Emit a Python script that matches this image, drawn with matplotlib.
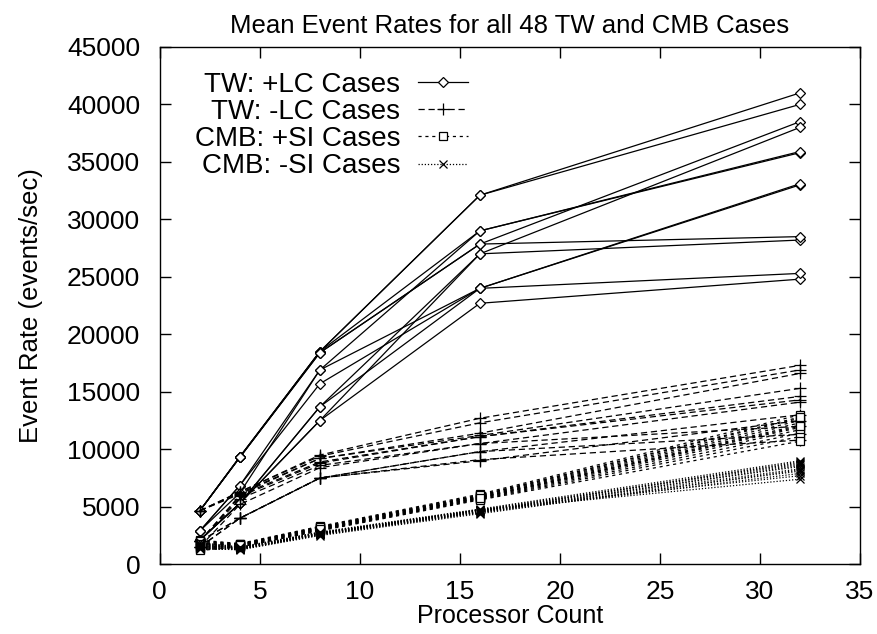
import matplotlib
matplotlib.use("Agg")
import matplotlib.pyplot as plt
from matplotlib.legend_handler import HandlerLine2D

# processor counts on the x axis
procs = [2, 4, 8, 16, 32]

# TW +LC cases (events/sec), one row per case
tw_plus_lc = [
    [4650, 9350, 18500, 32100, 41000],
    [4650, 9350, 18500, 32100, 40000],
    [4650, 9300, 18500, 29000, 35800],
    [2900, 6850, 16900, 29000, 35900],
    [4650, 9300, 18400, 27850, 38500],
    [2900, 6850, 15700, 24000, 33000],
    [2100, 5300, 13700, 27000, 38000],
    [2100, 5300, 12500, 27000, 28200],
    [2100, 5300, 13700, 24000, 33100],
    [2100, 5300, 12500, 22700, 24800],
    [4650, 9300, 18400, 27850, 28500],
    [2900, 6200, 16900, 24000, 25300],
]

# TW -LC cases
tw_minus_lc = [
    [4650, 6300, 9500, 12700, 17300],
    [4650, 6300, 9400, 12300, 16900],
    [4650, 6200, 9200, 11400, 16600],
    [4650, 6100, 9200, 11200, 15300],
    [2000, 6000, 8900, 11100, 14600],
    [2000, 5900, 8800, 11100, 14300],
    [2000, 5700, 8600, 10500, 14100],
    [2000, 4000, 7500, 9800, 13000],
    [2000, 4000, 7500, 9000, 12500],
    [1500, 5200, 8400, 10500, 12000],
    [1500, 4000, 7500, 9800, 11300],
    [1500, 4000, 7500, 9100, 10800],
]

# CMB +SI cases
cmb_plus_si = [
    [2100, 1800, 3300, 6100, 13000],
    [2000, 1750, 3250, 6000, 12700],
    [1900, 1700, 3200, 5950, 12500],
    [1800, 1700, 3150, 5900, 12300],
    [1700, 1650, 3100, 5850, 12100],
    [1600, 1600, 3050, 5800, 11900],
    [1500, 1600, 3000, 5750, 11700],
    [1400, 1550, 3000, 5700, 11400],
    [1300, 1500, 2950, 5650, 11100],
    [1200, 1500, 2900, 5600, 10700],
    [2000, 1750, 3200, 6000, 12800],
    [1800, 1650, 3100, 5800, 12000],
]

# CMB -SI cases
cmb_minus_si = [
    [1900, 1500, 2800, 4800, 9000],
    [1800, 1450, 2750, 4750, 8800],
    [1700, 1400, 2700, 4700, 8700],
    [1600, 1400, 2700, 4650, 8500],
    [1500, 1350, 2650, 4600, 8300],
    [1400, 1300, 2600, 4550, 8100],
    [1300, 1300, 2550, 4500, 7900],
    [1800, 1450, 2750, 4750, 7700],
    [1700, 1400, 2700, 4700, 7400],
    [1600, 1350, 2650, 4600, 8900],
    [1500, 1300, 2600, 4500, 8600],
    [1400, 1250, 2500, 4400, 8200],
]

labels = ["TW: +LC Cases", "TW: -LC Cases", "CMB: +SI Cases", "CMB: -SI Cases"]


class MarkerLeft(HandlerLine2D):
    # gnuplot style key: marker sits a third of the way along the sample line
    def get_xdata(self, legend, xdescent, ydescent, width, height, fontsize):
        xdata = [-xdescent, -xdescent + width]
        return xdata, [-xdescent + 0.32 * width]


plt.rcParams["font.family"] = ["Liberation Sans", "DejaVu Sans"]
plt.rcParams["font.size"] = 19

fig = plt.figure(figsize=(8.78, 6.34), dpi=100)
ax = fig.add_axes([0.182, 0.110, 0.7975, 0.816])

styles = [
    dict(linestyle="-", marker="D", markersize=5, mfc="white"),
    dict(linestyle=(0, (5, 3)), marker="+", markersize=9),
    dict(linestyle=(0, (2.5, 3)), marker="s", markersize=5.5, mfc="white"),
    dict(linestyle=(0, (1, 1.5)), marker="x", markersize=6),
]

groups = [tw_plus_lc, tw_minus_lc, cmb_plus_si, cmb_minus_si]
handles = []
for grp, st, lab in zip(groups, styles, labels):
    for i, row in enumerate(grp):
        ln, = ax.plot(procs, row, color="black", lw=0.9, mew=0.9, mec="black",
                      label=lab if i == 0 else None, **st)
        if i == 0:
            handles.append(ln)

ax.set_xlim(0, 35)
ax.set_ylim(0, 45000)
ax.set_xticks(range(0, 36, 5))
ax.set_yticks(range(0, 45001, 5000))
ax.tick_params(direction="in", length=8, width=1, top=True, right=True,
               labelsize=19)
ax.tick_params(axis="y", pad=14)
ax.tick_params(axis="x", pad=11)
for s in ax.spines.values():
    s.set_linewidth(1)

ax.set_title("Mean Event Rates for all 48 TW and CMB Cases", fontsize=18.5, pad=10)
ax.set_xlabel("Processor Count", fontsize=18, labelpad=0)
ax.set_ylabel("Event Rate (events/sec)", fontsize=18.5, labelpad=17)

ax.legend(handles=handles, loc="upper left", frameon=False, markerfirst=False,
          fontsize=20, handlelength=1.8, labelspacing=0.04, borderaxespad=0.0,
          bbox_to_anchor=(0.034, 0.973), handletextpad=0.65,
          handler_map={h: MarkerLeft() for h in handles})

fig.savefig("out.png", dpi=100)
